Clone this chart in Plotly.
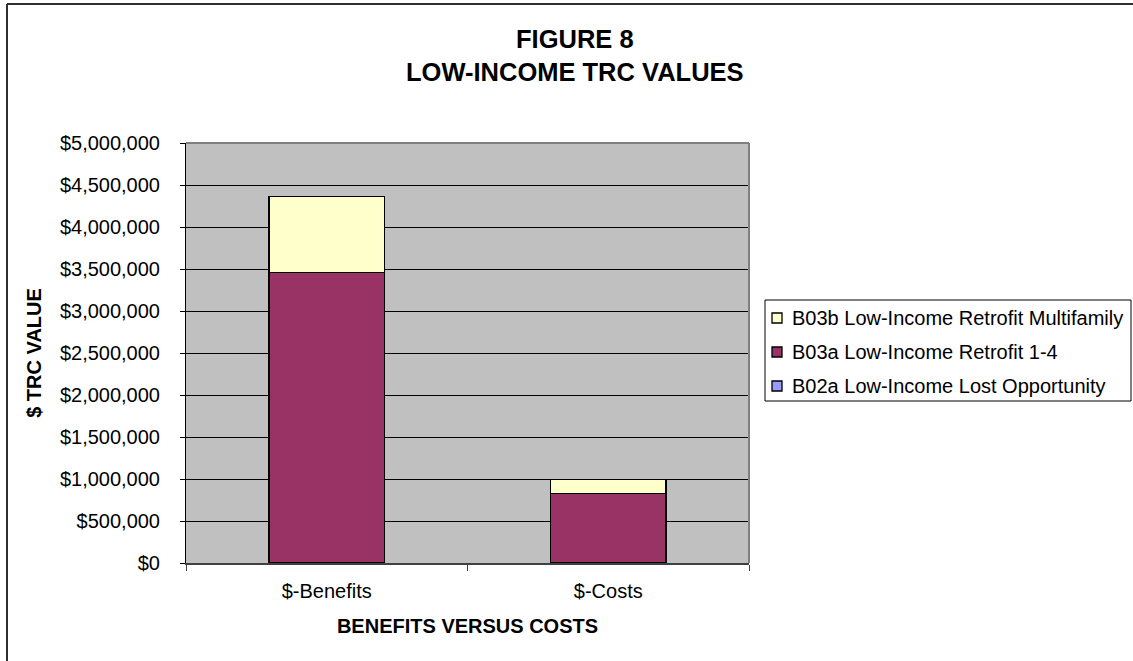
import plotly.graph_objects as go

categories = ["$-Benefits", "$-Costs"]
b02a_lost_opportunity = [0, 0]
b03a_retrofit_1_4 = [3460000, 825000]
b03b_retrofit_multifamily = [900000, 170000]

series_names = ["B02a Low-Income Lost Opportunity",
                "B03a Low-Income Retrofit 1-4",
                "B03b Low-Income Retrofit Multifamily"]
series_values = [b02a_lost_opportunity, b03a_retrofit_1_4, b03b_retrofit_multifamily]
series_colors = ["#9999FF", "#993366", "#FFFFCC"]

FONT = "Arial, Liberation Sans, sans-serif"
W, H = 1133, 661
L, R, T, B = 186, 384, 143, 98
PW, PH = W - L - R, H - T - B

def px_x(p):
    return (p - L) / PW

def px_y(p):
    return (H - B - p) / PH

fig = go.Figure()
for name, vals, col in zip(series_names, series_values, series_colors):
    fig.add_trace(go.Bar(
        x=categories, y=vals, name=name, showlegend=False,
        marker=dict(color=col, line=dict(color="black", width=1.3)),
    ))

fig.update_layout(
    width=W, height=H,
    margin=dict(l=L, r=R, t=T, b=B, autoexpand=False),
    barmode="stack", bargap=0.59,
    paper_bgcolor="white", plot_bgcolor="#C0C0C0",
    font=dict(family=FONT, size=20, color="black"),
    xaxis=dict(showline=True, linecolor="#404040", linewidth=1.5,
               ticks="outside", ticklen=6, tickcolor="#404040", tickson="boundaries",
               showgrid=False, ticklabelstandoff=9,
               title=dict(text="<b>BENEFITS VERSUS COSTS</b>", standoff=18,
                          font=dict(family=FONT, size=20))),
    yaxis=dict(range=[0, 5000000], dtick=500000, tickformat="$,.0f",
               showline=True, linecolor="black", linewidth=1,
               ticks="outside", ticklen=5, tickcolor="black",
               showgrid=True, gridcolor="black", gridwidth=1,
               zeroline=False, ticklabelstandoff=16,
               title=dict(text="<b>$ TRC VALUE</b>", standoff=12,
                          font=dict(family=FONT, size=20))),
    showlegend=False,
)

# chart title as two centred lines
for txt, yc in [("<b>FIGURE 8</b>", 39), ("<b>LOW-INCOME TRC VALUES</b>", 72)]:
    fig.add_annotation(text=txt, xref="paper", yref="paper",
                       x=px_x(575), y=px_y(yc), xanchor="center", yanchor="middle",
                       showarrow=False, font=dict(family=FONT, size=25.5, color="black"))

# legend box (Excel style: small squares close to the left edge)
fig.add_shape(type="rect", xref="paper", yref="paper",
              x0=px_x(765), x1=px_x(1131), y0=px_y(300), y1=px_y(401),
              line=dict(color="black", width=1), fillcolor="white", layer="above")
row_y = [386, 352, 318]  # B02a bottom, B03a middle, B03b top
for name, col, yc in zip(series_names, series_colors, row_y):
    fig.add_shape(type="rect", xref="paper", yref="paper",
                  x0=px_x(772), x1=px_x(782), y0=px_y(yc - 5), y1=px_y(yc + 5),
                  line=dict(color="black", width=1.3), fillcolor=col, layer="above")
    fig.add_annotation(text=name, xref="paper", yref="paper",
                       x=px_x(790), y=px_y(yc), xanchor="left", yanchor="middle",
                       showarrow=False, font=dict(family=FONT, size=20, color="black"))

# plot-area frame (top and right) in grey, Excel style
fig.add_shape(type="line", xref="paper", yref="paper", x0=0, x1=1, y0=1, y1=1,
              line=dict(color="#808080", width=2), layer="above")
fig.add_shape(type="line", xref="paper", yref="paper", x0=1, x1=1, y0=0, y1=1,
              line=dict(color="#808080", width=2), layer="above")
# outer chart border (left and top visible)
fig.add_shape(type="line", xref="paper", yref="paper",
              x0=px_x(7), x1=px_x(1140), y0=px_y(4), y1=px_y(4),
              line=dict(color="#303030", width=2), layer="above")
fig.add_shape(type="line", xref="paper", yref="paper",
              x0=px_x(7), x1=px_x(7), y0=px_y(4), y1=px_y(670),
              line=dict(color="#303030", width=2), layer="above")

fig.write_html("out.html", config={"displayModeBar": False},
               post_script="document.body.style.margin='0';document.body.style.padding='0';")
